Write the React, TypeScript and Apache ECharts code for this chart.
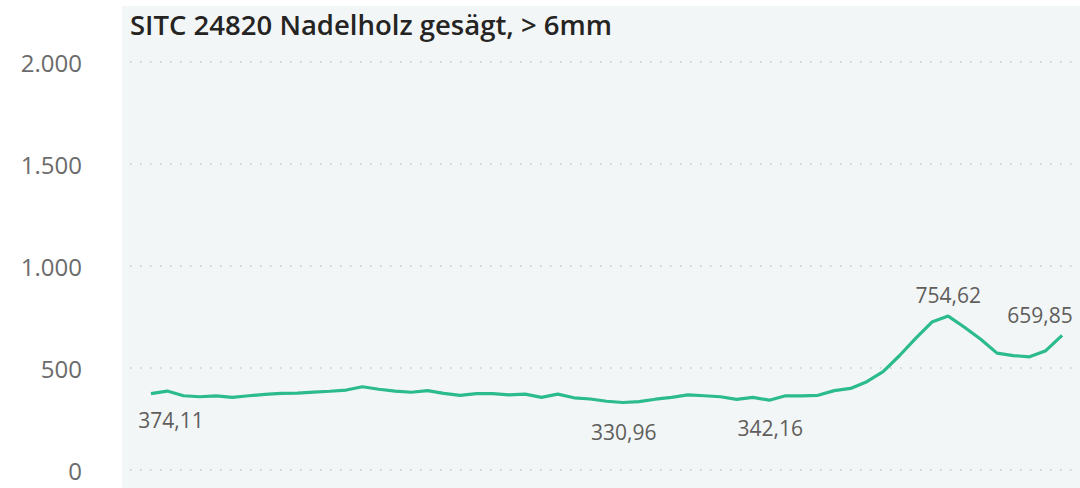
import React, { useEffect, useRef } from "react";
import * as echarts from "echarts";

const title = "SITC 24820 Nadelholz gesägt, > 6mm";
const yTicks = [0, 500, 1000, 1500, 2000];
const values = [
  374.11, 387, 364, 359, 363, 356, 364, 371, 376, 377,
  382, 386, 392, 408, 396, 387, 381, 389, 376, 366,
  374, 374, 368, 372, 356, 372, 354, 348, 337, 330.96,
  335, 347, 356, 368, 364, 359, 346, 356, 342.16, 364,
  363, 366, 389, 400, 433, 482, 560, 645, 725, 754.62,
  700, 641, 573, 561, 555, 585, 659.85,
];
// labelled points: index and label centre shift from the point
const labelled = [
  { i: 0, dx: 20, dy: 26 },
  { i: 29, dx: 1, dy: 30 },
  { i: 38, dx: 1, dy: 28 },
  { i: 49, dx: 0, dy: -21 },
  { i: 56, dx: -22, dy: -20 },
];

const fmtDE = (v: number, d: number) =>
  v.toLocaleString("de-DE", { minimumFractionDigits: d, maximumFractionDigits: d });

export default function App() {
  const ref = useRef<HTMLDivElement>(null);
  useEffect(() => {
    if (!ref.current) return;
    const chart = echarts.init(ref.current, null, { renderer: "svg" });
    const data = values.map((v, i) => {
      const l = labelled.find((x) => x.i === i);
      if (!l) return { value: [i, v] };
      return {
        value: [i, v],
        label: {
          show: true,
          position: [l.dx + 0.5, l.dy + 0.5],
          align: "center",
          verticalAlign: "middle",
          formatter: fmtDE(v, 2),
          color: "#605e5c",
          fontSize: 21,
          fontFamily: "Open Sans",
        },
      };
    });
    chart.setOption({
      animation: false,
      graphic: [
        {
          type: "rect",
          shape: { x: 122, y: 6, width: 958, height: 482 },
          style: { fill: "#f3f6f7" },
          z: -10,
        },
        {
          type: "text",
          x: 130,
          y: 24,
          style: {
            text: title,
            font: "600 27.5px 'Open Sans'",
            fill: "#252423",
            textVerticalAlign: "middle",
          },
          z: 10,
        },
      ],
      grid: { left: 130, right: 8, top: 62, bottom: 18, containLabel: false },
      xAxis: {
        type: "value",
        min: -1.29,
        max: 56.61,
        show: false,
        splitLine: { show: false },
      },
      yAxis: {
        type: "value",
        min: yTicks[0],
        max: yTicks[yTicks.length - 1],
        interval: 500,
        axisLine: { show: false },
        axisTick: { show: false },
        axisLabel: {
          formatter: (v: number) => fmtDE(v, 0),
          color: "#6b6b6b",
          fontSize: 24,
          fontFamily: "Open Sans",
          margin: 48,
        },
        splitLine: {
          show: true,
          lineStyle: { color: "#c6c9cb", width: 1.5, type: [1.5, 8.5] },
        },
      },
      series: [
        {
          type: "line",
          data,
          showSymbol: true,
          symbol: "circle",
          symbolSize: 1,
          itemStyle: { color: "rgba(0,0,0,0)" },
          lineStyle: { color: "#2cbb8a", width: 3.2 },
          label: { show: false },
          labelLayout: { hideOverlap: false },
        },
      ],
    });
    return () => chart.dispose();
  }, []);
  return <div ref={ref} style={{ width: 1080, height: 488, position: "absolute", left: 0, top: 0 }} />;
}
